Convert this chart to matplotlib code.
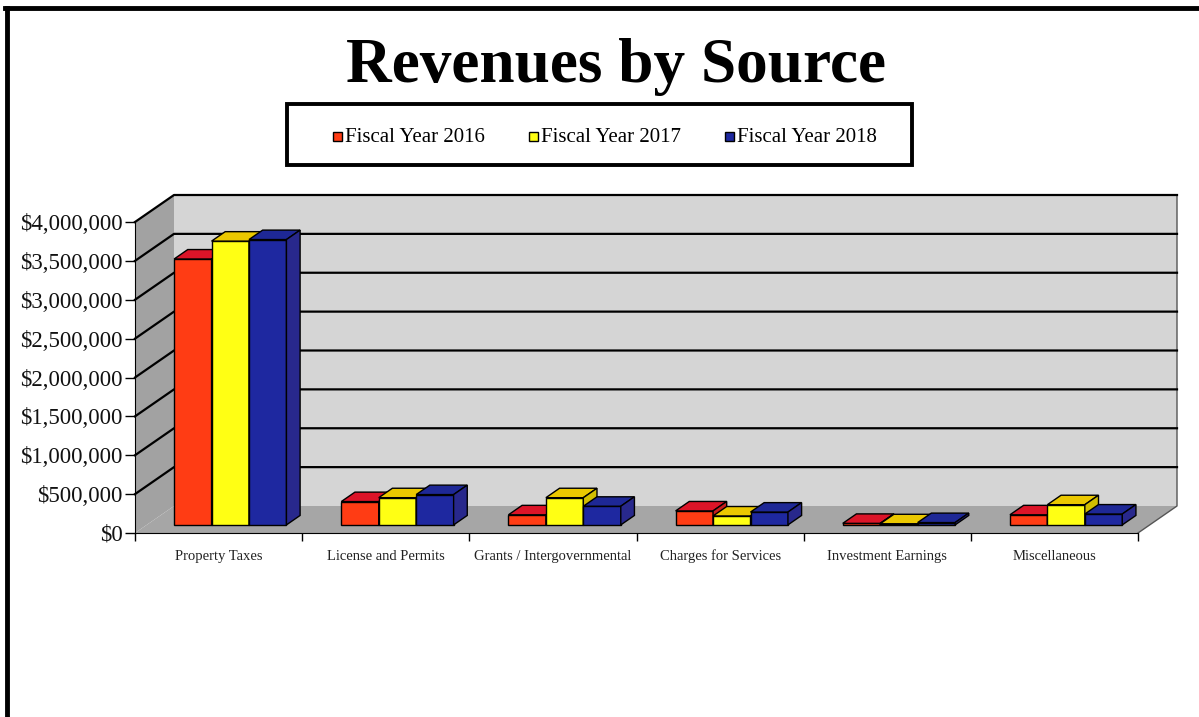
import matplotlib.pyplot as plt
import matplotlib.ticker as ticker
from matplotlib.patches import Polygon, Rectangle
from matplotlib.lines import Line2D
import numpy as np

categories = ["Property Taxes", "License and Permits", "Grants / Intergovernmental",
              "Charges for Services", "Investment Earnings", "Miscellaneous"]
series_names = ["Fiscal Year 2016", "Fiscal Year 2017", "Fiscal Year 2018"]
fy2016 = [3420000, 300000, 130000, 180000, 20000, 130000]
fy2017 = [3650000, 350000, 350000, 115000, 15000, 260000]
fy2018 = [3670000, 390000, 240000, 165000, 30000, 140000]
yticks = np.arange(0, 4000001, 500000)

# colours: front, top, side
front_cols = ["#ff3c14", "#ffff14", "#1e28a0"]
top_cols = ["#dc1428", "#ebc800", "#1e2896"]
side_cols = ["#c81e1e", "#d2be00", "#28288c"]

plt.rcParams['font.family'] = ['Liberation Serif', 'DejaVu Serif']

fig = plt.figure(figsize=(11.99, 7.17), dpi=100)
ax = fig.add_axes([135 / 1199, (717 - 533) / 717, (1138 - 135) / 1199, (533 - 222) / 717])
ax.set_xlim(0, len(categories))
ax.set_ylim(0, 4000000)
ax.set_facecolor("none")

# depth of the 3d box in data units
dx = 39 / 167.17
dy = 27 / 77.75 * 1e6
n = len(categories)
ymax = yticks[-1]

# walls and floor
ax.add_patch(Polygon([(0, 0), (dx, dy), (dx, ymax + dy), (0, ymax)],
                     facecolor="#a2a2a2", edgecolor="none", clip_on=False, zorder=0))
ax.add_patch(Polygon([(dx, dy), (n + dx, dy), (n + dx, ymax + dy), (dx, ymax + dy)],
                     facecolor="#d5d5d5", edgecolor="none", clip_on=False, zorder=0))
ax.add_patch(Polygon([(0, 0), (n, 0), (n + dx, dy), (dx, dy)],
                     facecolor="#a6a6a6", edgecolor="none", clip_on=False, zorder=0.5))
ax.plot([n, n + dx, n + dx], [0, dy, ymax + dy], color="#555555", lw=1, clip_on=False, zorder=0.6)

for v in yticks[1:]:
    ax.plot([0, dx, n + dx], [v, v + dy, v + dy], color="black", lw=1.6,
            clip_on=False, zorder=1)

# bars
f0, f1 = 0.3, 0.65
bw = 0.224
all_vals = [fy2016, fy2017, fy2018]
for i in range(n):
    x0 = i + 0.5 - 1.5 * bw + f0 * dx
    for s, vals in enumerate(all_vals):
        v = vals[i]
        xl = x0 + s * bw
        xr = xl + bw
        b = f0 * dy
        t = v + f0 * dy
        ddx = (f1 - f0) * dx
        ddy = (f1 - f0) * dy
        ax.bar(xl, v, width=bw, bottom=b, align="edge", color=front_cols[s],
               edgecolor="black", linewidth=1, zorder=3 + s, clip_on=False)
        ax.add_patch(Polygon([(xl, t), (xr, t), (xr + ddx, t + ddy), (xl + ddx, t + ddy)],
                             facecolor=top_cols[s], edgecolor="black", lw=1,
                             clip_on=False, zorder=3 + s))
        ax.add_patch(Polygon([(xr, b), (xr + ddx, b + ddy), (xr + ddx, t + ddy), (xr, t)],
                             facecolor=side_cols[s], edgecolor="black", lw=1,
                             clip_on=False, zorder=3 + s))

# axes
for sp in ["top", "right"]:
    ax.spines[sp].set_visible(False)
ax.spines["left"].set_zorder(2)
ax.spines["bottom"].set_zorder(2)
ax.set_yticks(yticks)
ax.yaxis.set_major_formatter(ticker.FuncFormatter(lambda v, p: "${:,.0f}".format(v)))
ax.tick_params(axis="y", length=7, width=1, pad=2, labelsize=16.5, labelcolor="#111111")
ax.set_xticks(np.arange(n + 1))
ax.set_xticklabels([])
ax.set_xticks(np.arange(n) + 0.5, minor=True)
ax.set_xticklabels(categories, minor=True, fontsize=10.5, color="#222222")
ax.tick_params(axis="x", which="major", length=6, width=1)
ax.tick_params(axis="x", which="minor", length=0, pad=12)

# title
fig.text(0.514, 1 - 67 / 717, "Revenues by Source", ha="center", va="center",
         fontsize=45.5, fontweight="bold")

# legend box
fig.patches.append(Rectangle((287 / 1199, 1 - 165 / 717), (912 - 287) / 1199, 61 / 717,
                             transform=fig.transFigure, facecolor="white",
                             edgecolor="black", lw=2.8))
for s, name in enumerate(series_names):
    mx = 333 + s * 196
    fig.patches.append(Rectangle((mx / 1199, 1 - 141 / 717), 9 / 1199, 9 / 717,
                                 transform=fig.transFigure, facecolor=front_cols[s],
                                 edgecolor="black", lw=1))
    fig.text((mx + 12) / 1199, 1 - 137 / 717, name, ha="left", va="center", fontsize=15)

# outer frame
fig.add_artist(Line2D([7 / 1199, 7 / 1199], [0, 1 - 8 / 717], color="black", lw=3.5,
                      transform=fig.transFigure))
fig.add_artist(Line2D([5 / 1199, 1], [1 - 8 / 717, 1 - 8 / 717], color="black", lw=3.5,
                      transform=fig.transFigure))

fig.savefig("out.png", dpi=100, facecolor="white")
